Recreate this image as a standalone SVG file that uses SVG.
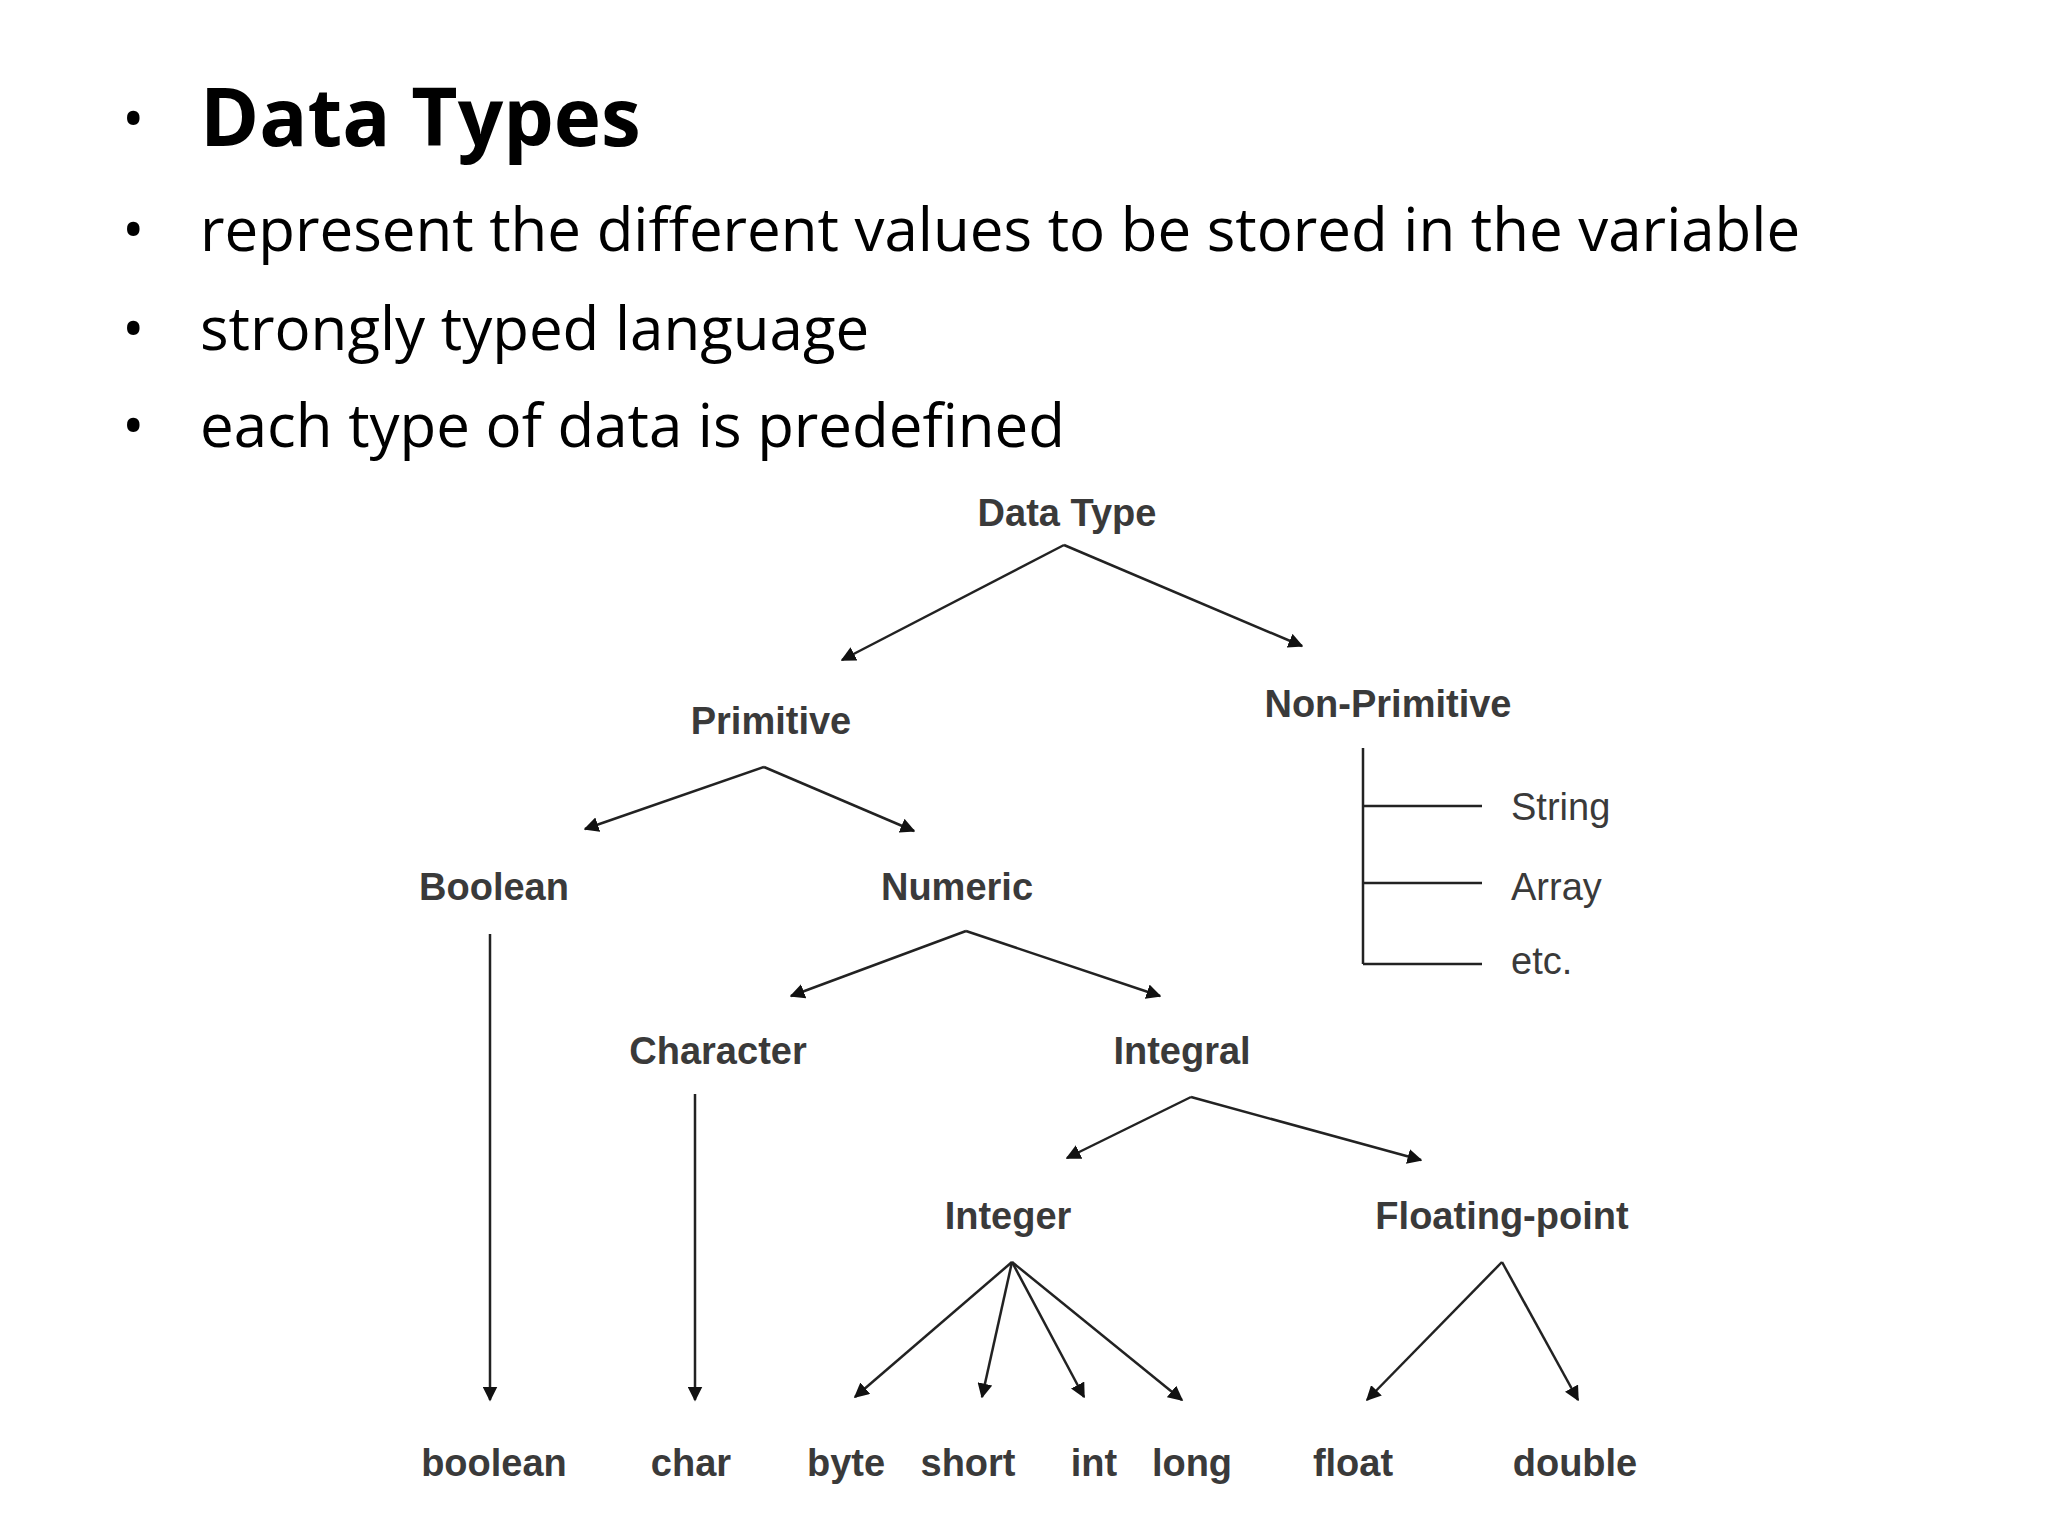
<svg xmlns="http://www.w3.org/2000/svg" width="2048" height="1536" viewBox="0 0 2048 1536">
<style>
.b{font-family:"Open Sans","Liberation Sans",sans-serif;font-size:60px;fill:#000}
.n{font-family:"Liberation Sans",Arial,sans-serif;font-size:38px;font-weight:bold;fill:#3a3a3a;text-anchor:middle}
.l{font-family:"Liberation Sans",Arial,sans-serif;font-size:38px;fill:#3a3a3a}
.c{stroke:#222;stroke-width:2.5;fill:none}
.a{marker-end:url(#ah)}
</style>
<defs><marker id="ah" viewBox="0 0 10 10" refX="9" refY="5" markerWidth="6" markerHeight="6" orient="auto"><path d="M0,0L10,5L0,10z" fill="#111"/></marker></defs>
<rect width="2048" height="1536" fill="#fff"/>
<g id="bullets">
<text x="122" y="140" class="b" font-size="78">•</text>
<text x="200" y="146" class="b" style="font-size:80px;font-weight:bold">Data Types</text>
<text x="122" y="251" class="b">•</text><text x="200" y="251" class="b">represent the different values to be stored in the variable</text>
<text x="122" y="350" class="b">•</text><text x="200" y="350" class="b">strongly typed language</text>
<text x="122" y="447" class="b">•</text><text x="200" y="447" class="b">each type of data is predefined</text>
</g>
<g id="connectors">
<path class="c a" d="M1064,545L842,660"/><path class="c a" d="M1064,545L1302,646"/>
<path class="c a" d="M764,767L585,829"/><path class="c a" d="M764,767L914,831"/>
<path class="c a" d="M490,934L490,1400"/>
<path class="c a" d="M966,931L791,996"/><path class="c a" d="M966,931L1160,996"/>
<path class="c a" d="M695,1094L695,1400"/>
<path class="c a" d="M1191,1097L1067,1158"/><path class="c a" d="M1191,1097L1421,1160"/>
<path class="c a" d="M1012,1262L855,1397"/><path class="c a" d="M1012,1262L982,1397"/><path class="c a" d="M1012,1262L1084,1397"/><path class="c a" d="M1012,1262L1182,1400"/>
<path class="c a" d="M1502,1262L1367,1400"/><path class="c a" d="M1502,1262L1578,1400"/>
<path class="c" d="M1363,748V964M1363,806H1482M1363,883H1482M1363,964H1482"/>
</g>
<g id="n-datatype"><text x="1067" y="526" class="n">Data Type</text></g>
<g id="n-primitive"><text x="771" y="734" class="n">Primitive</text></g>
<g id="n-nonprimitive"><text x="1388" y="717" class="n">Non-Primitive</text></g>
<g id="n-boolean"><text x="494" y="900" class="n">Boolean</text></g>
<g id="n-numeric"><text x="957" y="900" class="n">Numeric</text></g>
<g id="n-character"><text x="718" y="1064" class="n">Character</text></g>
<g id="n-integral"><text x="1182" y="1064" class="n">Integral</text></g>
<g id="n-integer"><text x="1008" y="1229" class="n">Integer</text></g>
<g id="n-floating"><text x="1502" y="1229" class="n">Floating-point</text></g>
<g id="n-string"><text x="1511" y="820" class="l">String</text></g>
<g id="n-array"><text x="1511" y="900" class="l">Array</text></g>
<g id="n-etc"><text x="1511" y="974" class="l">etc.</text></g>
<g id="leaves">
<text x="494" y="1476" class="n">boolean</text>
<text x="691" y="1476" class="n">char</text>
<text x="846" y="1476" class="n">byte</text>
<text x="968" y="1476" class="n">short</text>
<text x="1094" y="1476" class="n">int</text>
<text x="1192" y="1476" class="n">long</text>
<text x="1353" y="1476" class="n">float</text>
<text x="1575" y="1476" class="n">double</text>
</g>
</svg>
